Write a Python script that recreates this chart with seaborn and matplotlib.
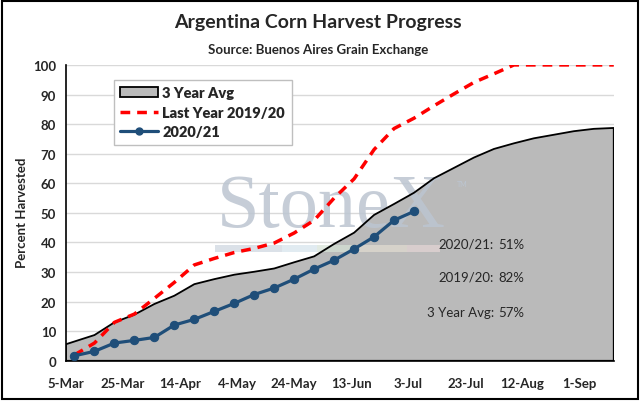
import pandas as pd
import matplotlib.pyplot as plt
import matplotlib.dates as mdates
from matplotlib.patches import Patch, Rectangle
from matplotlib.lines import Line2D
import seaborn as sns

# weekly report dates (Buenos Aires Grain Exchange)
weeks = [
    "2021-03-08", "2021-03-15", "2021-03-22", "2021-03-29", "2021-04-05",
    "2021-04-12", "2021-04-19", "2021-04-26", "2021-05-03", "2021-05-10",
    "2021-05-17", "2021-05-24", "2021-05-31", "2021-06-07", "2021-06-14",
    "2021-06-21", "2021-06-28", "2021-07-05", "2021-07-12", "2021-07-19",
    "2021-07-26", "2021-08-02", "2021-08-09", "2021-08-16", "2021-08-23",
    "2021-08-30", "2021-09-06", "2021-09-13",
]

# 3 year average starts at the axis origin, then follows the weekly dates
avg_start = "2021-03-05"
avg_start_val = 5.6
avg_vals = [8.7, 13.0, 15.6, 19.2, 22.0, 25.9, 27.6, 29.1, 30.1, 31.2,
            33.3, 35.3, 39.5, 43.3, 49.3, 53.0, 56.8, 61.7, 65.2, 68.7,
            71.6, 73.5, 75.2, 76.4, 77.6, 78.4, 78.7]

last_year = [2.0, 6.0, 13.0, 15.8, 21.1, 26.5, 32.4, 34.6, 36.6, 38.0,
             39.8, 43.2, 47.5, 55.0, 61.5, 71.4, 78.5, 82.0, 86.2, 90.2,
             94.1, 97.0, 100, 100, 100, 100, 100, 100]

this_year = [1.7, 3.2, 6.0, 6.9, 7.9, 12.1, 14.0, 16.7, 19.4, 22.4,
             24.6, 27.6, 31.0, 34.0, 37.8, 41.9, 47.5, 50.5]

tick_dates = ["2021-03-05", "2021-03-25", "2021-04-14", "2021-05-04",
              "2021-05-24", "2021-06-13", "2021-07-03", "2021-07-23",
              "2021-08-12", "2021-09-01"]
x_end = "2021-09-13"

summary_labels = ["2020/21:", "2019/20:", "3 Year Avg:"]
summary_values = ["51%", "82%", "57%"]

blue = "#1f4e79"
gray_fill = "#bababa"
mark_col = "#bcc5d1"

sns.set_style("white")
plt.rcParams["font.family"] = ["Lato", "DejaVu Sans"]

avg_df = pd.DataFrame({
    "date": pd.to_datetime([avg_start] + weeks[1:]),
    "pct": [avg_start_val] + avg_vals,
})
ly_df = pd.DataFrame({"date": pd.to_datetime(weeks), "pct": last_year})
ty_df = pd.DataFrame({"date": pd.to_datetime(weeks[:len(this_year)]), "pct": this_year})

fig, ax = plt.subplots(figsize=(6.4, 4.02), dpi=100)
fig.subplots_adjust(left=0.103, right=0.959, bottom=0.100, top=0.836)

# horizontal grid behind everything
ax.set_axisbelow(True)
ax.yaxis.grid(True, color="#d9d9d9", lw=1)

# 3 year avg area (fill first, outline above the watermark)
ax.fill_between(avg_df["date"], 0, avg_df["pct"], facecolor=gray_fill,
                edgecolor="none", zorder=1)
ax.fill_between(avg_df["date"], 0, avg_df["pct"], facecolor="none",
                edgecolor="black", lw=1.3, zorder=2)

# StoneX watermark
ax.text(0.484, 0.455, "StoneX", transform=ax.transAxes, ha="center",
        va="baseline", fontsize=55, family="Liberation Serif",
        color=mark_col, alpha=0.85, zorder=1.5)
ax.text(0.724, 0.598, "TM", transform=ax.transAxes, ha="center",
        va="center", fontsize=5, color=mark_col, zorder=1.5)
bar_cols = ["#ccd5df", "#d5e3ec", "#d6e2d6", "#e3ddd2", "#e6d6d6"]
bar_x = [0.272, 0.394, 0.458, 0.522, 0.622]
bar_w = [0.122, 0.064, 0.064, 0.100, 0.060]
for c, bx, bw in zip(bar_cols, bar_x, bar_w):
    ax.add_patch(Rectangle((bx, 0.368), bw, 0.022, transform=ax.transAxes,
                           facecolor=c, edgecolor="none", alpha=0.7, zorder=1.5))

sns.lineplot(data=ly_df, x="date", y="pct", ax=ax, color="red", lw=2.5,
             linestyle=(0, (2.8, 2.0)), zorder=3)
sns.lineplot(data=ty_df, x="date", y="pct", ax=ax, color=blue, lw=2.3,
             marker="o", markersize=6, markeredgecolor=blue, zorder=4)

ax.set_xlim(pd.Timestamp(tick_dates[0]), pd.Timestamp(x_end))
ax.set_ylim(0, 100)
ax.set_yticks(range(0, 101, 10))
ax.set_xticks(pd.to_datetime(tick_dates))
ax.xaxis.set_major_formatter(mdates.DateFormatter("%-d-%b"))
ax.set_xlabel("")
ax.set_ylabel("")

for side in ["top", "right"]:
    ax.spines[side].set_visible(False)
for side in ["left", "bottom"]:
    ax.spines[side].set_color("black")
    ax.spines[side].set_linewidth(1.2)
ax.tick_params(axis="both", which="major", direction="out", length=4,
               width=1, color="black", labelsize=9.5, pad=3)
ax.tick_params(axis="x", pad=8)
for lab in ax.get_xticklabels() + ax.get_yticklabels():
    lab.set_fontweight("bold")

# legend
handles = [
    Patch(facecolor=gray_fill, edgecolor="black", lw=1.3, label="3 Year Avg"),
    Line2D([], [], color="red", lw=2.5, linestyle=(0, (2.8, 2.0)),
           label="Last Year 2019/20"),
    Line2D([], [], color=blue, lw=2.3, marker="o", markersize=5,
           label="2020/21"),
]
leg = ax.legend(handles=handles, loc="upper left", bbox_to_anchor=(0.087, 0.95),
                frameon=True, fancybox=False, framealpha=1, edgecolor="#bfbfbf",
                prop={"weight": "heavy", "size": 10.5}, handlelength=2.6,
                handletextpad=0.3, borderpad=0.45, labelspacing=0.45,
                borderaxespad=0)
leg.get_frame().set_linewidth(1)

# summary text
for i, (lab, val) in enumerate(zip(summary_labels, summary_values)):
    y = [0.395, 0.284, 0.165][i]
    ax.text(0.781, y, lab, transform=ax.transAxes, ha="right", va="center",
            fontsize=9.5, zorder=5)
    ax.text(0.790, y, val, transform=ax.transAxes, ha="left", va="center",
            fontsize=9.5, zorder=5)

fig.text(0.497, 0.945, "Argentina Corn Harvest Progress", ha="center",
         va="center", fontsize=14, fontweight="bold")
fig.text(0.497, 0.876, "Source: Buenos Aires Grain Exchange", ha="center",
         va="center", fontsize=9.5, fontweight="bold")
fig.text(0.034, 0.47, "Percent Harvested", rotation=90, ha="center",
         va="center", fontsize=9.5, fontweight="bold")

# outer chart border
fig.patches.append(Rectangle((0.003, 0.004), 0.994, 0.992, transform=fig.transFigure,
                             fill=False, edgecolor="black", lw=1.5))

fig.savefig("out.png", dpi=100)
